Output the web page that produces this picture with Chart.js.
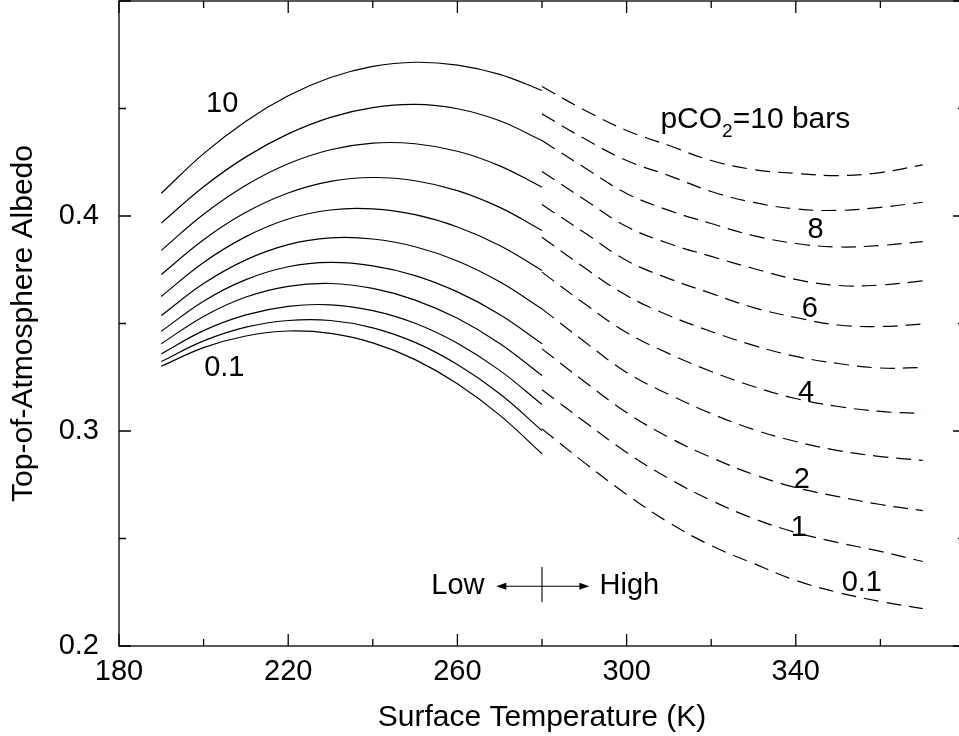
<!DOCTYPE html>
<html>
<head>
<meta charset="utf-8">
<title>Top-of-Atmosphere Albedo vs Surface Temperature</title>
<script src="https://cdn.jsdelivr.net/npm/chart.js@4.4.1/dist/chart.umd.min.js"></script>
<style>
    html, body { margin: 0; padding: 0; background: #fff; overflow: hidden; }
    canvas { display: block; }
</style>
</head>
<body>
<canvas id="albedoChart" width="966" height="736"></canvas>
<script>
// Surface temperatures (K) for the solid (cold) and dashed (warm) branches
const solidTemps = [190, 200, 210, 220, 230, 240, 250, 260, 270, 280];
const dashedTemps = [280, 290, 300, 310, 320, 330, 340, 350, 360, 370];

// pCO2 levels (bars), top curve first
const pco2Levels = ['10', '9', '8', '7', '6', '5', '4', '3', '2', '1', '0.1'];

// Albedo, solid branch (190-280 K)
const cold10 = [0.4106, 0.4290, 0.4441, 0.4559, 0.4644, 0.4696, 0.4715, 0.4702, 0.4659, 0.4584];
const cold9 = [0.3967, 0.4136, 0.4275, 0.4382, 0.4459, 0.4504, 0.4519, 0.4499, 0.4443, 0.4351];
const cold8 = [0.3840, 0.4008, 0.4143, 0.4243, 0.4308, 0.4339, 0.4336, 0.4301, 0.4233, 0.4134];
const cold7 = [0.3728, 0.3890, 0.4017, 0.4107, 0.4161, 0.4179, 0.4164, 0.4118, 0.4040, 0.3933];
const cold6 = [0.3626, 0.3784, 0.3904, 0.3986, 0.4028, 0.4033, 0.4006, 0.3949, 0.3863, 0.3747];
const cold5 = [0.3537, 0.3686, 0.3796, 0.3867, 0.3898, 0.3893, 0.3857, 0.3791, 0.3694, 0.3568];
const cold4 = [0.3464, 0.3604, 0.3704, 0.3764, 0.3784, 0.3768, 0.3723, 0.3647, 0.3542, 0.3406];
const cold3 = [0.3406, 0.3533, 0.3623, 0.3673, 0.3686, 0.3663, 0.3609, 0.3524, 0.3407, 0.3258];
const cold2 = [0.3359, 0.3467, 0.3540, 0.3580, 0.3587, 0.3560, 0.3501, 0.3408, 0.3282, 0.3123];
const cold1 = [0.3323, 0.3419, 0.3483, 0.3514, 0.3514, 0.3480, 0.3412, 0.3309, 0.3173, 0.3002];
const cold01 = [0.3301, 0.3388, 0.3442, 0.3465, 0.3454, 0.3410, 0.3332, 0.3220, 0.3074, 0.2894];

// Albedo, dashed branch (280-370 K)
const warm10 = [0.4602, 0.4493, 0.4398, 0.4328, 0.4258, 0.4216, 0.4198, 0.4188, 0.4202, 0.4238];
const warm9 = [0.4475, 0.4360, 0.4258, 0.4188, 0.4114, 0.4063, 0.4033, 0.4026, 0.4040, 0.4064];
const warm8 = [0.4351, 0.4226, 0.4105, 0.4026, 0.3965, 0.3909, 0.3872, 0.3856, 0.3863, 0.3881];
const warm7 = [0.4207, 0.4077, 0.3951, 0.3872, 0.3812, 0.3756, 0.3705, 0.3677, 0.3679, 0.3698];
const warm6 = [0.4053, 0.3923, 0.3793, 0.3709, 0.3640, 0.3574, 0.3528, 0.3493, 0.3486, 0.3498];
const warm5 = [0.3901, 0.3760, 0.3630, 0.3537, 0.3463, 0.3398, 0.3347, 0.3314, 0.3293, 0.3295];
const warm4 = [0.3739, 0.3593, 0.3458, 0.3360, 0.3277, 0.3207, 0.3151, 0.3114, 0.3091, 0.3081];
const warm3 = [0.3568, 0.3416, 0.3272, 0.3170, 0.3081, 0.3007, 0.2951, 0.2909, 0.2881, 0.2863];
const warm2 = [0.3382, 0.3230, 0.3086, 0.2970, 0.2877, 0.2798, 0.2737, 0.2695, 0.2658, 0.2630];
const warm1 = [0.3192, 0.3044, 0.2900, 0.2779, 0.2677, 0.2593, 0.2528, 0.2481, 0.2440, 0.2393];
const warm01 = [0.3010, 0.2853, 0.2705, 0.2574, 0.2467, 0.2384, 0.2305, 0.2249, 0.2207, 0.2174];

const coldCurves = [cold10, cold9, cold8, cold7, cold6, cold5, cold4, cold3, cold2, cold1, cold01];
const warmCurves = [warm10, warm9, warm8, warm7, warm6, warm5, warm4, warm3, warm2, warm1, warm01];

// Axis ticks
const xTickValues = [180, 220, 260, 300, 340];
const yTickValues = [0.2, 0.3, 0.4];

const FONT = "'Liberation Sans', Arial, Helvetica, sans-serif";

// Curve labels placed in data coordinates (temperature, albedo)
const curveNotes = [
    { text: '10', t: 204.4, a: 0.4519 },
    { text: '0.1', t: 204.9, a: 0.3295 },
    { text: '8', t: 344.7, a: 0.3933 },
    { text: '6', t: 343.3, a: 0.3567 },
    { text: '4', t: 342.4, a: 0.3179 },
    { text: '2', t: 341.4, a: 0.2774 },
    { text: '1', t: 340.7, a: 0.2547 },
    { text: '0.1', t: 355.6, a: 0.2291 }
];

const datasets = [];
coldCurves.forEach((vals, i) => {
    datasets.push({
        label: pco2Levels[i] + ' bar (cold)',
        data: solidTemps.map((t, j) => ({ x: t, y: vals[j] })),
        borderColor: '#000',
        borderWidth: 1.2,
        pointRadius: 0,
        tension: 0.4,
        fill: false
    });
});
warmCurves.forEach((vals, i) => {
    datasets.push({
        label: pco2Levels[i] + ' bar (warm)',
        data: dashedTemps.map((t, j) => ({ x: t, y: vals[j] })),
        borderColor: '#000',
        borderWidth: 1.2,
        borderDash: [15, 8],
        pointRadius: 0,
        tension: 0.4,
        fill: false
    });
});

// frame with inward ticks, the Low/High marker and curve labels
const frameAndNotes = {
    id: 'frameAndNotes',
    afterDraw(chart) {
        const { ctx, chartArea, scales: { x, y } } = chart;
        const { left, right, top, bottom } = chartArea;
        ctx.save();
        ctx.strokeStyle = '#000';
        ctx.fillStyle = '#000';
        ctx.lineWidth = 1.3;
        ctx.strokeRect(left, top, right - left, bottom - top);

        ctx.beginPath();
        for (let t = 180; t <= 380; t += 20) {
            const px = x.getPixelForValue(t);
            const len = (t - 180) % 40 === 0 ? 12 : 7;
            ctx.moveTo(px, bottom); ctx.lineTo(px, bottom - len);
            ctx.moveTo(px, top); ctx.lineTo(px, top + len);
        }
        for (let k = 0; k <= 6; k++) {
            const py = y.getPixelForValue(0.2 + k * 0.05);
            const len = k % 2 === 0 ? 12 : 7;
            ctx.moveTo(left, py); ctx.lineTo(left + len, py);
            ctx.moveTo(right, py); ctx.lineTo(right - len, py);
        }
        ctx.stroke();

        // Low <-|-> High
        const ay = y.getPixelForValue(0.2278);
        const xl = x.getPixelForValue(269.2);
        const xr = x.getPixelForValue(291.2);
        const xm = x.getPixelForValue(280);
        ctx.lineWidth = 1.1;
        ctx.beginPath();
        ctx.moveTo(xl + 6, ay); ctx.lineTo(xr - 6, ay);
        ctx.moveTo(xm, y.getPixelForValue(0.2367)); ctx.lineTo(xm, y.getPixelForValue(0.2204));
        ctx.stroke();
        ctx.beginPath();
        ctx.moveTo(xl, ay); ctx.lineTo(xl + 10, ay - 3.5); ctx.lineTo(xl + 10, ay + 3.5); ctx.closePath();
        ctx.moveTo(xr, ay); ctx.lineTo(xr - 10, ay - 3.5); ctx.lineTo(xr - 10, ay + 3.5); ctx.closePath();
        ctx.fill();

        ctx.font = '29px ' + FONT;
        ctx.textBaseline = 'middle';
        ctx.textAlign = 'right';
        ctx.fillText('Low', x.getPixelForValue(266.4), y.getPixelForValue(0.2281));
        ctx.textAlign = 'left';
        ctx.fillText('High', x.getPixelForValue(293.6), y.getPixelForValue(0.2281));

        ctx.textAlign = 'center';
        curveNotes.forEach(n => {
            ctx.fillText(n.text, x.getPixelForValue(n.t), y.getPixelForValue(n.a));
        });

        // pCO2=10 bars with subscript
        ctx.textAlign = 'left';
        ctx.textBaseline = 'alphabetic';
        let px = x.getPixelForValue(308);
        const base = y.getPixelForValue(0.4407);
        ctx.font = '30px ' + FONT;
        ctx.fillText('pCO', px, base);
        px += ctx.measureText('pCO').width;
        ctx.font = '19px ' + FONT;
        ctx.fillText('2', px, base + 9);
        px += ctx.measureText('2').width;
        ctx.font = '30px ' + FONT;
        ctx.fillText('=10 bars', px, base);
        ctx.restore();
    }
};

Chart.defaults.color = '#000';
Chart.defaults.font.family = FONT;

new Chart(document.getElementById('albedoChart').getContext('2d'), {
    type: 'line',
    data: { datasets },
    options: {
        responsive: false,
        devicePixelRatio: 1,
        animation: false,
        layout: { padding: { top: 1, right: 1, left: 0, bottom: 0 } },
        plugins: { legend: { display: false }, tooltip: { enabled: false } },
        scales: {
            x: {
                type: 'linear',
                min: 180,
                max: 380,
                grid: { display: false, drawTicks: false },
                border: { display: false },
                afterBuildTicks: scale => { scale.ticks = xTickValues.map(v => ({ value: v })); },
                afterFit: scale => {
                    scale.height = 90;
                    scale.paddingLeft = 0;
                    scale.paddingRight = 0;
                },
                ticks: { autoSkip: false, maxRotation: 0, padding: 9, font: { size: 29 } },
                title: {
                    display: true,
                    text: 'Surface Temperature (K)',
                    font: { size: 30 },
                    padding: { top: 0, bottom: 0 }
                }
            },
            y: {
                type: 'linear',
                min: 0.2,
                max: 0.5,
                grid: { display: false, drawTicks: false },
                border: { display: false },
                afterBuildTicks: scale => { scale.ticks = yTickValues.map(v => ({ value: v })); },
                afterFit: scale => {
                    scale.width = 119;
                    scale.paddingTop = 0;
                    scale.paddingBottom = 0;
                },
                ticks: { padding: 20, font: { size: 29 }, callback: v => v.toFixed(1) },
                title: {
                    display: true,
                    text: 'Top-of-Atmosphere Albedo',
                    font: { size: 30 },
                    padding: { top: 6, bottom: 0 }
                }
            }
        }
    },
    plugins: [frameAndNotes]
});
</script>
</body>
</html>
